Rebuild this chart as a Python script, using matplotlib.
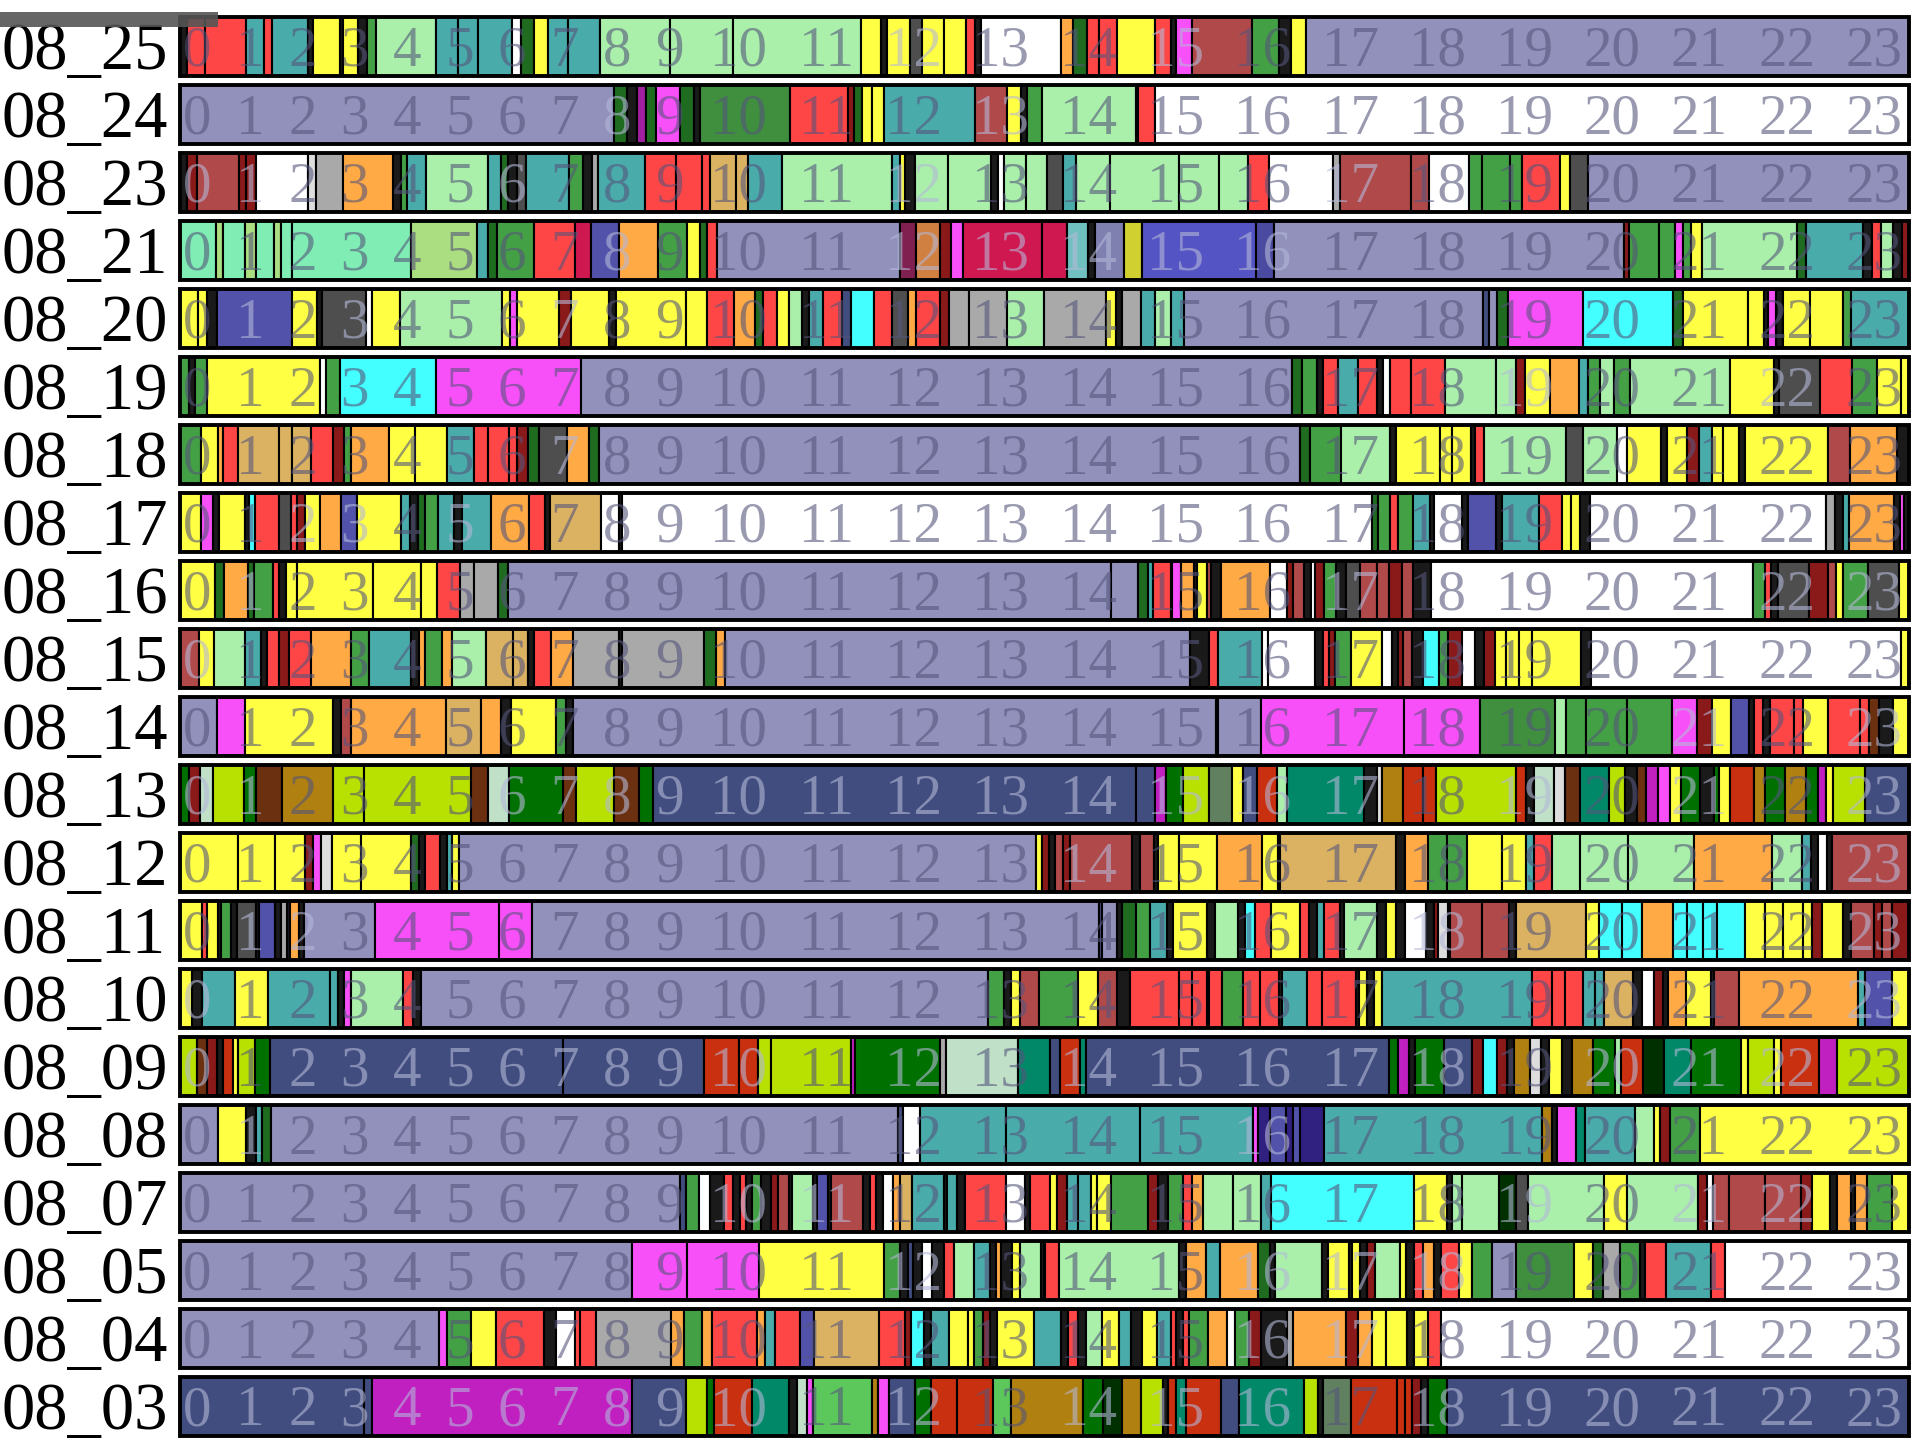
import matplotlib
matplotlib.use("Agg")
import matplotlib.pyplot as plt
from matplotlib.patches import Rectangle
from matplotlib.colors import to_rgb
from matplotlib.transforms import blended_transform_factory

# ---------------- data ----------------
dates = ["08_25", "08_24", "08_23", "08_21", "08_20", "08_19", "08_18", "08_17",
         "08_16", "08_15", "08_14", "08_13", "08_12", "08_11", "08_10", "08_09",
         "08_08", "08_07", "08_05", "08_04", "08_03"]

hour_labels = ["0", "1", "2", "3", "4", "5", "6", "7", "8", "9", "10", "11",
               "12", "13", "14", "15", "16", "17", "18", "19", "20", "21", "22", "23"]

# activity colour codes
palette = {
    'L': '#9191bb', 'N': '#414d7e', 'g': '#aaf0aa', 'T': '#4aabab', 'R': '#ff4646',
    'Y': '#ffff44', 'O': '#ffaa44', 't': '#dab262', 'B': '#b04a4a', 'G': '#44a044',
    'q': '#3f8f3f', 'D': '#1f6b1f', 'M': '#f850f8', 'C': '#44ffff', 'A': '#a9a9a9',
    'a': '#4e4e4e', 'W': '#ffffff', 'w': '#dddddd', 'S': '#5252aa', 'K': '#1a1a1a',
    'r': '#8a1a1a', 'P': '#a020a0', 'm': '#80eeb4', 'o': '#aade80', 'c': '#d01850',
    'p': '#d08040', 'e': '#70c0c0', 'l': '#7f7fb0', 'y': '#d0d030', 's': '#5454c4',
    'v': '#4a4aa0', 'j': '#802050', 'Z': '#b8e000', 'z': '#6b3010', 'V': '#b08010',
    'X': '#007000', 'Q': '#008868', 'E': '#c83010', 'H': '#608060', 'h': '#c0e0c8',
    'U': '#c020c0', 'I': '#5cc85c', 'J': '#003000', 'F': '#302080',
}

# each row: (segment end hour, activity code); segment starts where previous ends
row_08_25 = [(0.10,'K'),(0.35,'R'),(0.92,'R'),(1.17,'T'),(1.28,'R'),(1.78,'T'),(1.85,'K'),(2.22,'Y'),
             (2.26,'K'),(2.47,'Y'),(2.60,'K'),(2.72,'G'),(3.55,'g'),(3.86,'T'),(4.14,'T'),(4.61,'T'),
             (4.73,'W'),(4.92,'D'),(5.11,'Y'),(5.39,'T'),(5.83,'T'),(6.80,'g'),(7.67,'g'),(9.45,'g'),
             (9.73,'Y'),(9.81,'K'),(10.13,'Y'),(10.30,'a'),(10.61,'Y'),(10.91,'Y'),(11.04,'R'),(11.12,'K'),
             (12.23,'W'),(12.39,'O'),(12.59,'D'),(12.75,'R'),(13.00,'R'),(13.54,'Y'),(13.75,'R'),(13.82,'K'),
             (14.05,'M'),(14.88,'B'),(15.26,'G'),(15.42,'K'),(15.63,'Y'),(24.0,'L')]
row_08_24 = [(6.03,'L'),(6.20,'D'),(6.34,'K'),(6.47,'P'),(6.61,'D'),(6.94,'M'),(7.14,'D'),(7.22,'K'),
             (8.47,'q'),(9.27,'R'),(9.35,'r'),(9.47,'D'),(9.60,'Y'),(9.77,'Y'),(11.04,'T'),(11.48,'B'),
             (11.67,'Y'),(11.76,'K'),(11.96,'G'),(13.27,'g'),(13.30,'R'),(13.54,'R'),(24.0,'W')]
row_08_23 = [(0.10,'K'),(0.24,'r'),(0.82,'B'),(0.92,'r'),(1.06,'r'),(1.77,'W'),(1.89,'w'),(2.26,'A'),
             (2.96,'O'),(3.07,'K'),(3.15,'G'),(3.42,'T'),(4.27,'g'),(4.46,'T'),(4.55,'D'),(4.68,'K'),
             (4.80,'a'),(5.40,'T'),(5.59,'G'),(5.72,'K'),(5.80,'A'),(6.45,'T'),(6.88,'R'),(7.25,'R'),
             (7.36,'R'),(7.72,'t'),(7.89,'t'),(8.36,'T'),(9.88,'g'),(10.00,'T'),(10.07,'Y'),(10.20,'K'),
             (10.66,'g'),(11.26,'g'),(11.36,'K'),(11.44,'W'),(11.75,'g'),(12.04,'g'),(12.26,'a'),(12.44,'T'),
             (12.91,'g'),(13.87,'g'),(14.42,'g'),(14.82,'g'),(15.12,'R'),(16.00,'W'),(16.10,'A'),(17.09,'B'),
             (17.34,'B'),(17.89,'W'),(18.07,'G'),(18.46,'G'),(18.63,'G'),(19.16,'R'),(19.29,'Y'),(19.55,'a'),
             (24.0,'L')]
row_08_21 = [(0.50,'m'),(0.60,'o'),(0.90,'m'),(1.05,'o'),(1.30,'m'),(1.40,'o'),(1.55,'m'),(3.20,'m'),
             (4.12,'o'),(4.28,'T'),(4.40,'D'),(4.92,'G'),(5.48,'R'),(5.70,'c'),(6.10,'S'),(6.64,'O'),
             (7.04,'G'),(7.22,'Y'),(7.31,'D'),(7.45,'R'),(10.00,'L'),(10.21,'j'),(10.55,'p'),(10.70,'r'),
             (10.87,'M'),(11.96,'c'),(12.31,'c'),(12.60,'e'),(12.70,'K'),(13.11,'l'),(13.36,'y'),(14.94,'s'),
             (15.19,'v'),(20.05,'L'),(20.12,'r'),(20.53,'G'),(20.75,'G'),(20.86,'M'),(20.98,'G'),(21.13,'Y'),
             (22.44,'g'),(22.57,'D'),(23.36,'T'),(23.48,'K'),(23.61,'R'),(23.78,'g'),(23.90,'K'),(24.0,'r')]
row_08_20 = [(0.25,'Y'),(0.38,'Y'),(0.52,'K'),(1.56,'S'),(1.90,'Y'),(1.97,'K'),(2.58,'a'),(2.67,'W'),
             (3.06,'Y'),(4.47,'g'),(4.58,'Y'),(4.68,'M'),(5.26,'Y'),(5.43,'r'),(5.96,'Y'),(6.05,'K'),
             (7.02,'Y'),(7.32,'Y'),(7.69,'R'),(7.98,'O'),(8.09,'D'),(8.29,'R'),(8.45,'Y'),(8.63,'g'),
             (8.73,'K'),(8.93,'T'),(9.19,'R'),(9.31,'N'),(9.63,'C'),(9.89,'R'),(10.10,'a'),(10.22,'O'),
             (10.55,'R'),(10.68,'r'),(10.95,'A'),(11.48,'A'),(11.99,'g'),(12.86,'A'),(12.99,'Y'),(13.07,'K'),
             (13.34,'A'),(13.54,'T'),(13.76,'g'),(13.93,'T'),(18.08,'L'),(18.17,'N'),(18.28,'L'),(18.44,'D'),
             (19.48,'M'),(20.72,'C'),(20.86,'D'),(21.77,'Y'),(21.99,'Y'),(22.04,'K'),(22.15,'M'),(22.25,'K'),
             (22.63,'Y'),(23.09,'Y'),(23.20,'G'),(24.0,'T')]
row_08_19 = [(0.13,'G'),(0.21,'K'),(0.37,'G'),(1.95,'Y'),(2.03,'W'),(2.22,'G'),(3.56,'C'),(5.56,'M'),
             (15.44,'L'),(15.58,'D'),(15.78,'G'),(15.86,'K'),(16.08,'R'),(16.35,'T'),(16.62,'R'),(16.70,'K'),
             (16.80,'W'),(17.09,'R'),(17.56,'R'),(18.27,'g'),(18.54,'g'),(18.67,'r'),(19.01,'Y'),(19.42,'O'),
             (19.55,'T'),(19.71,'G'),(19.90,'g'),(20.13,'G'),(21.52,'g'),(22.12,'Y'),(22.19,'K'),(22.77,'a'),
             (23.21,'R'),(23.55,'G'),(23.89,'Y'),(24.0,'Y')]
row_08_18 = [(0.29,'G'),(0.53,'Y'),(0.60,'O'),(0.80,'R'),(1.37,'t'),(1.56,'t'),(1.82,'t'),(2.12,'R'),
             (2.28,'r'),(2.38,'G'),(2.90,'O'),(3.26,'Y'),(3.70,'Y'),(4.08,'T'),(4.27,'R'),(4.57,'R'),
             (4.68,'R'),(4.83,'r'),(4.99,'D'),(5.37,'a'),(5.68,'O'),(5.82,'D'),(15.54,'L'),(15.68,'D'),
             (16.12,'G'),(16.79,'g'),(16.88,'K'),(17.49,'Y'),(17.66,'Y'),(17.92,'Y'),(17.97,'K'),(18.10,'R'),
             (19.24,'g'),(19.47,'a'),(19.95,'g'),(20.08,'W'),(20.56,'Y'),(20.64,'K'),(20.92,'Y'),(21.09,'r'),
             (21.26,'T'),(21.42,'Y'),(21.64,'Y'),(21.72,'K'),(22.88,'Y'),(23.18,'B'),(23.84,'O'),(24.0,'K')]
row_08_17 = [(0.29,'Y'),(0.46,'M'),(0.54,'K'),(0.90,'Y'),(0.96,'K'),(1.04,'C'),(1.38,'R'),(1.54,'a'),
             (1.62,'R'),(1.73,'r'),(1.95,'Y'),(2.24,'O'),(2.45,'S'),(3.07,'Y'),(3.19,'T'),(3.30,'K'),
             (3.40,'D'),(3.58,'G'),(3.80,'T'),(3.92,'K'),(4.32,'T'),(4.85,'O'),(5.07,'R'),(5.14,'K'),
             (5.85,'t'),(6.10,'W'),(6.14,'K'),(16.55,'W'),(16.63,'D'),(16.79,'G'),(16.90,'R'),(17.12,'G'),
             (17.35,'T'),(17.40,'K'),(17.80,'W'),(17.88,'K'),(18.27,'S'),(18.35,'K'),(18.86,'T'),(19.18,'R'),
             (19.31,'Y'),(19.44,'Y'),(19.57,'K'),(22.85,'W'),(22.97,'A'),(23.08,'K'),(23.17,'T'),(23.79,'O'),
             (23.87,'K'),(23.93,'M'),(24.0,'K')]
row_08_16 = [(0.48,'Y'),(0.61,'D'),(0.95,'O'),(1.03,'D'),(1.29,'G'),(1.37,'R'),(1.47,'K'),(1.62,'Y'),
             (2.68,'Y'),(3.34,'Y'),(3.57,'Y'),(3.88,'R'),(4.08,'A'),(4.42,'A'),(4.55,'D'),(12.93,'L'),
             (13.30,'L'),(13.43,'D'),(13.50,'T'),(13.75,'R'),(13.77,'K'),(13.90,'M'),(14.07,'O'),(14.11,'K'),
             (14.25,'Y'),(14.31,'B'),(14.45,'K'),(15.13,'O'),(15.37,'W'),(15.45,'r'),(15.60,'B'),(15.70,'K'),
             (15.76,'W'),(15.88,'r'),(16.05,'G'),(16.18,'K'),(16.38,'a'),(16.62,'B'),(16.78,'B'),(16.96,'r'),
             (17.12,'B'),(17.36,'K'),(21.84,'W'),(22.00,'G'),(22.08,'R'),(22.18,'K'),(22.61,'a'),(22.88,'r'),
             (22.98,'B'),(23.08,'Y'),(23.43,'G'),(23.86,'a'),(24.0,'Y')]
row_08_15 = [(0.27,'B'),(0.47,'Y'),(0.90,'g'),(1.12,'T'),(1.21,'K'),(1.37,'R'),(1.51,'r'),(1.82,'R'),
             (2.38,'O'),(2.63,'G'),(3.20,'T'),(3.32,'K'),(3.40,'O'),(3.64,'G'),(3.78,'O'),(4.25,'g'),
             (4.62,'t'),(4.83,'t'),(4.92,'K'),(5.15,'R'),(5.46,'O'),(6.10,'A'),(6.14,'K'),(7.28,'A'),
             (7.44,'D'),(7.56,'O'),(14.02,'L'),(14.28,'K'),(14.41,'R'),(15.02,'T'),(15.10,'W'),(15.75,'W'),
             (15.86,'K'),(15.95,'R'),(16.03,'r'),(16.25,'G'),(16.69,'Y'),(16.83,'W'),(16.90,'K'),(16.98,'r'),
             (17.10,'B'),(17.25,'K'),(17.47,'C'),(17.60,'G'),(17.80,'r'),(17.97,'W'),(18.10,'K'),(18.26,'r'),
             (18.40,'Y'),(18.58,'Y'),(18.77,'Y'),(19.45,'Y'),(19.58,'K'),(23.89,'W'),(24.0,'Y')]
row_08_14 = [(0.52,'L'),(0.90,'M'),(2.13,'Y'),(2.23,'K'),(2.38,'B'),(3.69,'O'),(4.18,'t'),(4.45,'O'),
             (4.60,'K'),(5.22,'Y'),(5.36,'G'),(5.46,'K'),(14.38,'L'),(14.41,'N'),(15.01,'L'),(16.99,'M'),
             (18.04,'M'),(19.09,'q'),(19.24,'g'),(19.51,'G'),(20.09,'G'),(20.71,'G'),(21.06,'M'),(21.26,'r'),
             (21.53,'Y'),(21.78,'S'),(21.85,'K'),(21.98,'R'),(22.07,'K'),(22.40,'R'),(22.53,'R'),(22.88,'Y'),
             (23.32,'R'),(23.44,'R'),(23.58,'z'),(23.78,'K'),(24.0,'Y')]
row_08_13 = [(0.13,'X'),(0.28,'r'),(0.46,'h'),(0.89,'Z'),(1.05,'X'),(1.41,'z'),(2.13,'V'),(2.56,'Z'),
             (4.04,'Z'),(4.28,'z'),(4.56,'h'),(5.32,'X'),(5.50,'z'),(6.03,'Z'),(6.37,'z'),(6.57,'X'),
             (13.27,'N'),(13.54,'N'),(13.68,'U'),(13.92,'X'),(14.29,'Z'),(14.60,'H'),(14.76,'Y'),(14.95,'N'),
             (15.23,'E'),(15.37,'g'),(16.43,'Q'),(16.61,'K'),(16.69,'w'),(16.98,'V'),(17.26,'E'),(17.43,'E'),
             (18.55,'Z'),(18.68,'E'),(18.80,'K'),(19.07,'h'),(19.22,'w'),(19.44,'z'),(19.83,'Q'),(20.06,'Z'),
             (20.22,'K'),(20.35,'z'),(20.52,'U'),(20.68,'M'),(20.84,'Y'),(21.10,'X'),(21.30,'K'),(21.36,'X'),
             (21.52,'Y'),(21.85,'E'),(22.00,'V'),(22.28,'X'),(22.57,'V'),(22.74,'X'),(22.85,'U'),(22.95,'Y'),
             (23.39,'Z'),(24.0,'N')]
row_08_12 = [(0.80,'Y'),(1.32,'Y'),(1.74,'Y'),(1.84,'r'),(1.96,'M'),(2.11,'w'),(2.51,'Y'),(3.20,'Y'),
             (3.32,'D'),(3.40,'K'),(3.61,'R'),(3.70,'K'),(3.78,'T'),(3.87,'Y'),(11.88,'L'),(11.97,'Y'),
             (12.06,'r'),(12.15,'K'),(12.25,'B'),(12.36,'r'),(13.22,'B'),(13.33,'K'),(13.52,'B'),(13.58,'K'),
             (13.87,'Y'),(14.39,'Y'),(15.02,'O'),(15.24,'Y'),(15.27,'K'),(16.88,'t'),(17.00,'K'),(17.33,'O'),
             (17.59,'G'),(17.86,'G'),(18.35,'Y'),(18.68,'Y'),(18.80,'T'),(19.04,'R'),(19.44,'g'),(20.10,'g'),
             (21.02,'g'),(22.10,'O'),(22.52,'g'),(22.64,'T'),(22.74,'K'),(22.86,'W'),(22.93,'K'),(24.0,'B')]
row_08_11 = [(0.31,'Y'),(0.37,'R'),(0.53,'Y'),(0.57,'K'),(0.71,'G'),(0.79,'K'),(1.05,'a'),(1.10,'K'),
             (1.32,'S'),(1.40,'K'),(1.48,'A'),(1.53,'K'),(1.65,'O'),(1.72,'K'),(2.70,'L'),(4.43,'M'),
             (4.88,'M'),(12.76,'L'),(12.80,'N'),(13.01,'L'),(13.08,'K'),(13.27,'D'),(13.46,'G'),(13.70,'T'),
             (13.78,'K'),(14.26,'Y'),(14.36,'K'),(14.69,'g'),(14.78,'K'),(14.92,'C'),(15.14,'R'),(15.54,'Y'),
             (15.67,'R'),(15.78,'K'),(15.88,'T'),(16.10,'R'),(16.16,'K'),(16.62,'g'),(16.74,'K'),(16.88,'Y'),
             (17.00,'K'),(17.30,'W'),(17.40,'K'),(17.46,'r'),(17.60,'w'),(17.63,'K'),(18.07,'B'),(18.45,'B'),
             (18.54,'K'),(19.52,'t'),(19.70,'Y'),(20.01,'C'),(20.30,'C'),(20.73,'O'),(20.92,'C'),(21.14,'C'),
             (21.33,'C'),(21.72,'C'),(22.00,'Y'),(22.25,'Y'),(22.53,'Y'),(22.66,'Y'),(22.79,'r'),(23.08,'Y'),
             (23.20,'K'),(23.52,'B'),(23.62,'r'),(23.76,'B'),(24.0,'r')]
row_08_10 = [(0.17,'Y'),(0.30,'K'),(0.76,'T'),(1.22,'Y'),(2.08,'T'),(2.20,'T'),(2.28,'K'),(2.38,'M'),
             (3.10,'g'),(3.23,'R'),(3.34,'K'),(11.21,'L'),(11.44,'G'),(11.54,'K'),(11.66,'Y'),(11.93,'B'),
             (12.47,'G'),(12.74,'Y'),(13.00,'B'),(13.18,'K'),(13.87,'R'),(14.05,'R'),(14.25,'R'),(14.29,'K'),
             (14.47,'R'),(14.75,'G'),(14.99,'R'),(15.25,'R'),(15.30,'K'),(15.64,'T'),(15.85,'R'),(16.32,'R'),
             (16.36,'K'),(16.47,'Y'),(16.57,'K'),(16.68,'Y'),(18.76,'T'),(19.05,'R'),(19.22,'R'),(19.47,'R'),
             (19.64,'T'),(19.77,'T'),(20.17,'t'),(20.30,'K'),(20.46,'W'),(20.58,'r'),(20.66,'K'),(20.90,'O'),
             (21.25,'Y'),(21.29,'K'),(21.64,'B'),(23.29,'O'),(23.39,'T'),(23.76,'S'),(24.0,'Y')]
row_08_09 = [(0.24,'Z'),(0.38,'z'),(0.52,'r'),(0.59,'K'),(0.73,'E'),(0.80,'Y'),(1.04,'Z'),(1.25,'X'),
             (5.32,'N'),(7.28,'N'),(7.76,'E'),(8.03,'E'),(8.21,'Z'),(9.31,'Z'),(9.37,'U'),(10.55,'X'),
             (10.63,'A'),(11.63,'h'),(12.08,'Q'),(12.22,'N'),(12.49,'E'),(12.58,'Q'),(16.78,'N'),(16.90,'X'),
             (17.06,'U'),(17.14,'K'),(17.54,'X'),(17.94,'N'),(18.09,'r'),(18.28,'C'),(18.42,'r'),(18.52,'K'),
             (18.74,'V'),(18.89,'w'),(19.00,'K'),(19.18,'Y'),(19.32,'K'),(19.61,'V'),(19.92,'X'),(20.00,'g'),
             (20.31,'E'),(20.60,'J'),(20.97,'Q'),(21.67,'X'),(21.76,'Y'),(22.12,'Z'),(22.22,'Y'),(22.75,'E'),
             (23.00,'U'),(24.0,'Z')]
row_08_08 = [(0.53,'L'),(0.92,'Y'),(1.06,'K'),(1.14,'T'),(1.27,'D'),(9.96,'L'),(10.04,'N'),(10.27,'W'),
             (11.46,'T'),(13.32,'T'),(14.90,'T'),(14.97,'M'),(15.13,'F'),(15.35,'S'),(15.45,'F'),(15.55,'S'),
             (15.88,'F'),(18.91,'T'),(19.05,'V'),(19.12,'K'),(19.38,'M'),(19.50,'Q'),(20.19,'T'),(20.46,'g'),
             (20.55,'Y'),(20.68,'r'),(21.10,'G'),(24.0,'Y')]
row_08_07 = [(6.94,'L'),(7.03,'N'),(7.21,'G'),(7.35,'W'),(7.55,'K'),(7.68,'R'),(7.78,'K'),(7.85,'R'),
             (7.94,'K'),(8.06,'G'),(8.20,'K'),(8.30,'r'),(8.45,'B'),(8.49,'K'),(8.79,'g'),(8.84,'K'),
             (8.99,'S'),(9.03,'K'),(9.48,'B'),(9.58,'K'),(9.66,'R'),(9.76,'K'),(9.90,'W'),(10.00,'O'),
             (10.16,'t'),(10.60,'T'),(10.64,'K'),(10.78,'T'),(10.90,'K'),(11.46,'R'),(11.73,'W'),(11.80,'K'),
             (12.07,'R'),(12.18,'Y'),(12.31,'r'),(12.46,'T'),(12.64,'T'),(12.73,'Y'),(12.92,'Y'),(13.44,'G'),
             (13.58,'r'),(13.72,'K'),(13.92,'G'),(14.05,'R'),(14.20,'O'),(14.62,'g'),(15.01,'g'),(15.15,'T'),
             (17.13,'C'),(17.59,'Y'),(17.66,'K'),(17.79,'g'),(18.31,'g'),(18.54,'J'),(18.71,'a'),(19.77,'g'),
             (20.09,'Y'),(21.07,'g'),(21.20,'r'),(21.28,'W'),(21.50,'B'),(22.00,'B'),(22.50,'B'),(22.65,'r'),
             (22.90,'Y'),(23.00,'K'),(23.19,'O'),(23.25,'K'),(23.42,'O'),(23.77,'G'),(24.0,'Y')]
row_08_05 = [(6.28,'L'),(7.04,'M'),(8.04,'M'),(9.77,'Y'),(10.00,'G'),(10.10,'K'),(10.17,'N'),(10.30,'K'),
             (10.44,'W'),(10.60,'K'),(10.75,'R'),(11.02,'g'),(11.25,'T'),(11.32,'K'),(11.40,'O'),(11.55,'K'),
             (11.66,'Y'),(11.95,'g'),(12.00,'K'),(12.20,'R'),(13.87,'g'),(13.97,'K'),(14.24,'O'),(14.44,'T'),
             (14.97,'O'),(15.13,'D'),(15.20,'K'),(15.85,'g'),(15.93,'K'),(16.22,'Y'),(16.27,'K'),(16.38,'Y'),
             (16.47,'K'),(16.59,'r'),(16.93,'g'),(17.02,'Y'),(17.13,'K'),(17.26,'R'),(17.40,'O'),(17.50,'K'),
             (17.76,'R'),(17.94,'Y'),(18.21,'G'),(18.54,'L'),(19.35,'q'),(19.61,'Y'),(19.75,'D'),(19.99,'A'),
             (20.26,'G'),(20.33,'K'),(20.63,'R'),(21.25,'T'),(21.44,'R'),(24.0,'W')]
row_08_04 = [(3.60,'L'),(3.70,'M'),(4.04,'G'),(4.39,'Y'),(5.05,'R'),(5.22,'K'),(5.48,'W'),(5.55,'R'),
             (5.78,'R'),(6.82,'A'),(6.99,'O'),(7.24,'G'),(7.39,'O'),(8.01,'R'),(8.12,'O'),(8.26,'T'),
             (8.61,'R'),(8.80,'S'),(9.70,'t'),(10.07,'R'),(10.14,'r'),(10.33,'C'),(10.42,'K'),(10.68,'T'),
             (10.94,'Y'),(11.02,'Y'),(11.15,'G'),(11.25,'r'),(11.34,'K'),(11.86,'Y'),(12.23,'T'),(12.32,'K'),
             (12.47,'R'),(12.58,'K'),(12.80,'g'),(13.04,'Y'),(13.20,'T'),(13.35,'K'),(13.56,'Y'),(13.75,'T'),
             (13.83,'R'),(13.92,'K'),(14.00,'R'),(14.27,'G'),(14.53,'O'),(14.65,'W'),(14.84,'G'),(15.01,'r'),
             (15.36,'K'),(15.45,'A'),(16.19,'O'),(16.35,'r'),(16.54,'O'),(16.74,'Y'),(17.03,'Y'),(17.13,'K'),
             (17.33,'Y'),(17.50,'R'),(24.0,'W')]
row_08_03 = [(2.56,'N'),(2.67,'N'),(6.28,'U'),(7.03,'N'),(7.32,'Z'),(7.41,'X'),(7.94,'E'),(8.46,'Q'),
             (8.56,'K'),(8.70,'h'),(8.78,'M'),(9.60,'I'),(9.69,'V'),(9.84,'M'),(10.20,'N'),(10.42,'X'),
             (10.78,'E'),(11.29,'E'),(11.53,'I'),(12.53,'V'),(12.81,'X'),(13.07,'J'),(13.34,'V'),(13.64,'Z'),
             (13.72,'K'),(13.82,'E'),(13.96,'Q'),(14.45,'E'),(14.70,'N'),(15.60,'Q'),(15.79,'Z'),(15.87,'K'),
             (16.25,'H'),(16.89,'E'),(17.00,'E'),(17.10,'E'),(17.22,'r'),(17.33,'K'),(17.59,'X'),(24.0,'N')]

rows = [row_08_25, row_08_24, row_08_23, row_08_21, row_08_20, row_08_19, row_08_18,
        row_08_17, row_08_16, row_08_15, row_08_14, row_08_13, row_08_12, row_08_11,
        row_08_10, row_08_09, row_08_08, row_08_07, row_08_05, row_08_04, row_08_03]

# ---------------- drawing ----------------
W_IN, H_IN, DPI = 19.2, 14.4, 100
fig = plt.figure(figsize=(W_IN, H_IN), dpi=DPI)
fig.patch.set_facecolor('white')

BAR_H = 0.87
n = len(dates)
ax_left, ax_right = 180 / 1920, 1909 / 1920
ax_bottom, ax_top = 4 / 1440, 1 - 17 / 1440
ax = fig.add_axes([ax_left, ax_bottom, ax_right - ax_left, ax_top - ax_bottom])
ax.set_xlim(0, 24)
ax.set_ylim(-(n - 1) - BAR_H / 2, BAR_H / 2)
ax.axis('off')

# pixels per data unit (vertical)
px_per_unit = (ax_top - ax_bottom) * H_IN * DPI / ((n - 1) + BAR_H)

# hour label positions: flowing text layout "0 1 2 ... 23" across the full bar
widths = [0.5 * len(s) for s in hour_labels]
gap = 0.25
total = sum(widths) + gap * (len(hour_labels) - 1)
centers = []
pos = 0.0
for w in widths:
    centers.append((pos + w / 2) * 24 / total)
    pos += w + gap

HOUR_FS = 41
LABEL_FS = 48
digit_h = 0.67 * HOUR_FS * DPI / 72 / px_per_unit
label_h = 0.67 * LABEL_FS * DPI / 72 / px_per_unit

DARK_TXT = '#55557c'
LIGHT_TXT = '#b4b8d8'


def luminance(hexcol):
    r, g, b = to_rgb(hexcol)
    return 0.299 * r + 0.587 * g + 0.114 * b


lab_tr = blended_transform_factory(fig.transFigure, ax.transData)

for i, (date, segs) in enumerate(zip(dates, rows)):
    y = -i
    lefts, wids, cols = [], [], []
    start = 0.0
    for end, code in segs:
        lefts.append(start)
        wids.append(end - start)
        cols.append(palette[code])
        start = end
    ax.barh([y] * len(lefts), wids, left=lefts, height=BAR_H, color=cols,
            edgecolor='black', linewidth=1.5, zorder=2)
    ax.add_patch(Rectangle((0, y - BAR_H / 2), 24, BAR_H, fill=False,
                           edgecolor='black', linewidth=2.8, zorder=4, clip_on=False))
    for c, s in zip(centers, hour_labels):
        bg = cols[-1]
        for l0, w0, col in zip(lefts, wids, cols):
            if l0 <= c < l0 + w0:
                bg = col
                break
        tc = LIGHT_TXT if luminance(bg) < 0.41 else DARK_TXT
        ax.text(c, y - digit_h / 2, s, ha='center', va='baseline', fontsize=HOUR_FS,
                family='Liberation Serif', color=tc, alpha=0.6, zorder=3)
    ax.text(0.001, y - label_h / 2, date, transform=lab_tr, ha='left', va='baseline',
            fontsize=LABEL_FS, family='Liberation Serif', color='black', zorder=5)

# grey strip at the top-left corner
fig.patches.append(Rectangle((0, 1 - 27 / 1440), 218 / 1920, 15 / 1440,
                             transform=fig.transFigure, facecolor='#555555',
                             alpha=0.9, edgecolor='none', zorder=10))

fig.savefig('out.png', dpi=DPI, facecolor='white')
